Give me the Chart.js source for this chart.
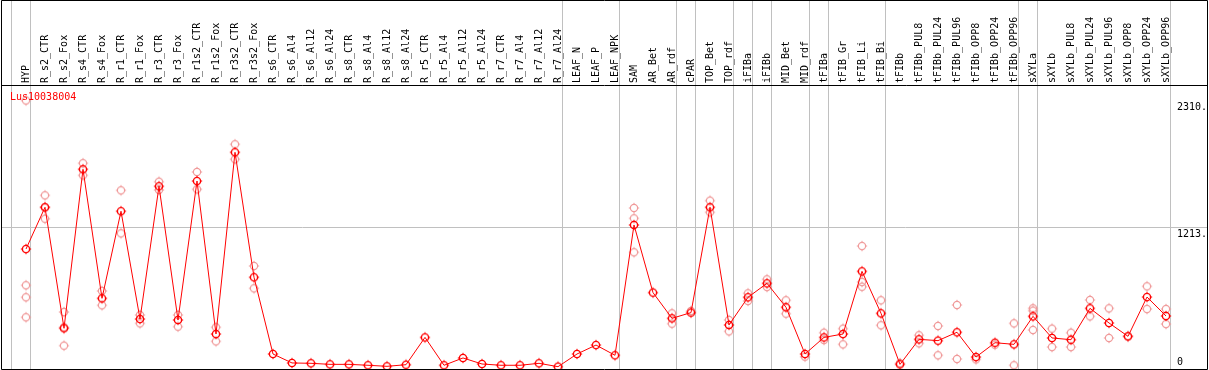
<!DOCTYPE html>
<html><head><meta charset="utf-8">
<script src="https://cdn.jsdelivr.net/npm/chart.js@4"></script>
<style>html,body{margin:0;padding:0;background:#fff;overflow:hidden}</style>
</head><body>
<canvas id="c" width="1209" height="370" style="display:block;width:1209px;height:370px"></canvas>
<script>
const geneName = "Lus10038004";
const categories = ["HYP","R_s2_CTR","R_s2_Fox","R_s4_CTR","R_s4_Fox","R_r1_CTR","R_r1_Fox","R_r3_CTR","R_r3_Fox","R_r1s2_CTR","R_r1s2_Fox","R_r3s2_CTR","R_r3s2_Fox","R_s6_CTR","R_s6_Al4","R_s6_Al12","R_s6_Al24","R_s8_CTR","R_s8_Al4","R_s8_Al12","R_s8_Al24","R_r5_CTR","R_r5_Al4","R_r5_Al12","R_r5_Al24","R_r7_CTR","R_r7_Al4","R_r7_Al12","R_r7_Al24","LEAF_N","LEAF_P","LEAF_NPK","SAM","AR_Bet","AR_rdf","cPAR","TOP_Bet","TOP_rdf","iFIBa","iFIBb","MID_Bet","MID_rdf","tFIBa","tFIB_Gr","tFIB_Li","tFIB_Bi","tFIBb","tFIBb_PUL8","tFIBb_PUL24","tFIBb_PUL96","tFIBb_OPP8","tFIBb_OPP24","tFIBb_OPP96","sXYLa","sXYLb","sXYLb_PUL8","sXYLb_PUL24","sXYLb_PUL96","sXYLb_OPP8","sXYLb_OPP24","sXYLb_OPP96"];
const meanValues = [1032,1391,350,1718,608,1357,430,1572,422,1617,301,1864,789,129,52,49,40,40,32,23,37,272,32,95,43,32,32,49,20,129,206,118,1239,657,436,485,1391,379,617,737,531,129,272,301,840,479,40,255,244,316,103,226,212,453,267,252,522,396,281,619,456];
const replicates = [
 [2310,720,617,445],[1494,1293,1391],[490,201,360],[1770,1666],[671,548],[1537,1167],[465,393],[1611,1540],[465,364],[1695,1546],[359,238],[1933,1804],[886,694],
 [],[],[],[],[],[],[],[],[],[],[],[],[],[],[],[],[],[],[],
 [1385,1296,1004],[],[479,390],[499],[1448,1348],[422,324],[651,585],[771,705],[591,476],[106],[312,249],[347,212],[1058,748,708],[591,376],
 [50],[290,221],[370,118],[551,86],[83],[209],[393,32],[522,502,336],[347,189],[312,189],[594,453],[522,267],[281],[711,516],[516,387]
];
const groupBreaks = [-1,0,28,31,34,35,37,38,39,41,42,45,52,53,60];
const yTickValues = [2310,1213,0];
const yTickLabels = ["2310.","1213.","0"];
const yGridValues = [1213];

function makeMarker(color, lw){
  const c = document.createElement('canvas'); c.width = 14; c.height = 14;
  const g = c.getContext('2d');
  g.strokeStyle = color; g.lineWidth = lw;
  g.beginPath(); g.arc(7,7,3.6,0,Math.PI*2); g.stroke();
  g.lineWidth = 1;
  g.beginPath();
  g.moveTo(7,1.8); g.lineTo(7,3);
  g.moveTo(7,11); g.lineTo(7,12.2);
  g.moveTo(1.8,7); g.lineTo(3,7);
  g.moveTo(11,7); g.lineTo(12.2,7);
  g.stroke();
  return c;
}
const mainMarker = makeMarker('#ff0000',1.4);
const repMarker = makeMarker('#f09a9a',1.2);

const mainData = meanValues.map((v,i)=>({x:i,y:v}));
const repData = [];
replicates.forEach((arr,i)=>arr.forEach(v=>repData.push({x:i,y:v})));

const FONT = '10px "DejaVu Sans Mono", monospace';
const framePlugin = {
  id:'frame',
  beforeDatasetsDraw(chart){
    const ctx = chart.ctx, xs = chart.scales.x, ys = chart.scales.y, a = chart.chartArea;
    ctx.save();
    ctx.strokeStyle = '#c0c0c0'; ctx.lineWidth = 1;
    ctx.beginPath();
    groupBreaks.forEach(b=>{
      const x = Math.round(xs.getPixelForValue(b+0.237)-0.5)+0.5;
      ctx.moveTo(x,0); ctx.lineTo(x,a.bottom);
    });
    yGridValues.forEach(v=>{
      const y = Math.round(ys.getPixelForValue(v)-0.5)+0.5;
      ctx.moveTo(a.left,y); ctx.lineTo(a.right,y);
    });
    ctx.stroke();
    ctx.restore();
  },
  afterDraw(chart){
    const ctx = chart.ctx, xs = chart.scales.x, ys = chart.scales.y, a = chart.chartArea;
    ctx.save();
    ctx.strokeStyle = '#000'; ctx.lineWidth = 1;
    ctx.beginPath();
    ctx.rect(a.left+0.5, 0.5, a.right-a.left, a.bottom);
    ctx.moveTo(a.left, a.top+0.5); ctx.lineTo(a.right+1, a.top+0.5);
    ctx.stroke();
    ctx.font = FONT;
    ctx.fillStyle = '#000';
    categories.forEach((c,i)=>{
      const x = xs.getPixelForValue(i);
      ctx.save();
      ctx.translate(x, a.top-2);
      ctx.rotate(-Math.PI/2);
      ctx.textAlign='left'; ctx.textBaseline='middle';
      ctx.fillText(c,0,0);
      ctx.restore();
    });
    ctx.textAlign='left';
    yTickValues.forEach((v,k)=>{
      const y = ys.getPixelForValue(v);
      if (v===0){ ctx.textBaseline='bottom'; ctx.fillText(yTickLabels[k], 1177, y-2); }
      else if (k===0){ ctx.textBaseline='top'; ctx.fillText(yTickLabels[k], 1177, y+2); }
      else { ctx.textBaseline='top'; ctx.fillText(yTickLabels[k], 1177, y+1); }
    });
    ctx.fillStyle = '#ff0000';
    ctx.textBaseline='middle';
    ctx.fillText(geneName, 10, a.top+12);
    ctx.restore();
  }
};

new Chart(document.getElementById('c'), {
  type:'line',
  data:{datasets:[
    {data:mainData, borderColor:'#ff0000', borderWidth:1, pointStyle:mainMarker, pointRadius:4, tension:0, fill:false, showLine:true},
    {data:repData, showLine:false, pointStyle:repMarker, pointRadius:4, borderColor:'#f09a9a'}
  ]},
  options:{
    responsive:false, animation:false, events:[],
    layout:{autoPadding:false, padding:{left:1,right:2,top:85,bottom:1}},
    plugins:{legend:{display:false},tooltip:{enabled:false}},
    scales:{
      x:{type:'linear', display:false, min:-25/19, max:-25/19+1206/19},
      y:{type:'linear', display:false, min:0, max:2443}
    }
  },
  plugins:[framePlugin]
});
</script>
</body></html>
